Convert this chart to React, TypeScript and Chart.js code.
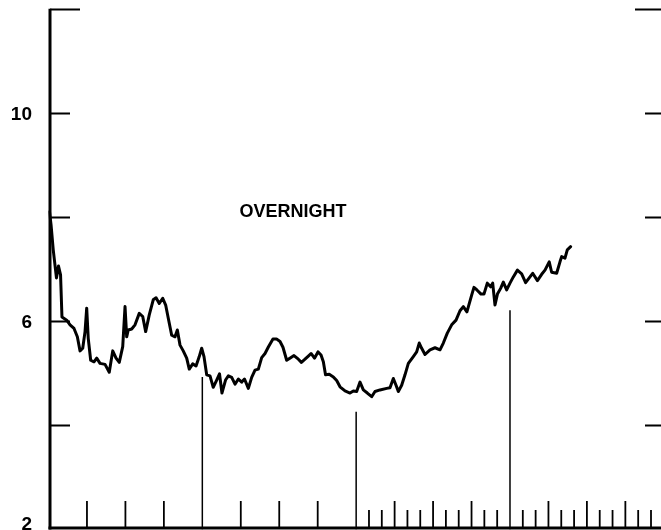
import React, { useEffect, useRef } from "react";
import { Chart, registerables } from "chart.js";

Chart.register(...registerables);

// Time in months from the start of the chart; overnight rate (%)
const months = [
  0.08, 0.2, 0.37, 0.62, 0.78, 0.94, 1.05, 1.42, 1.68, 1.99, 2.25, 2.46, 2.67, 2.85, 2.98, 3.1, 3.29, 3.55, 3.76, 4.02,
  4.41, 4.74, 5.01, 5.27, 5.52, 5.79, 5.97, 6.1, 6.22, 6.49, 6.75, 7.08, 7.35, 7.58, 7.86, 8.17, 8.39, 8.64, 8.91, 9.14,
  9.34, 9.61, 9.87, 10.05, 10.26, 10.51, 10.78, 10.98, 11.25, 11.51, 11.76, 11.95, 12.13, 12.34, 12.6, 12.85, 13.12, 13.34, 13.53, 13.81,
  14.03, 14.29, 14.55, 14.81, 15.07, 15.29, 15.59, 15.85, 16.11, 16.37, 16.63, 16.89, 17.16, 17.51, 17.78, 18.06, 18.29, 18.58, 18.89, 19.15,
  19.49, 19.73, 20.01, 20.27, 20.48, 20.75, 21.02, 21.26, 21.44, 21.61, 21.9, 22.22, 22.48, 22.74, 23.13, 23.52, 23.78, 24.04, 24.3, 24.56,
  24.87, 25.21, 25.47, 25.86, 26.38, 26.64, 26.9, 27.11, 27.29, 27.55, 27.81, 28.07, 28.46, 28.72, 28.92, 29.11, 29.37, 29.76, 30.15, 30.54,
  30.8, 31.11, 31.45, 31.79, 32.1, 32.36, 32.64, 33.01, 33.19, 33.42, 33.74, 33.97, 34.23, 34.49, 34.65, 34.83, 35.02, 35.27, 35.48, 35.74,
  36.0, 36.26, 36.58, 36.91, 37.22, 37.56, 37.77, 38.14, 38.47, 38.73, 39.06, 39.25, 39.64, 39.9, 40.03, 40.29, 40.47, 40.73,
];
const rates = [
  8.1, 7.85, 7.37, 6.83, 7.06, 6.89, 6.08, 6.02, 5.93, 5.86, 5.7, 5.43, 5.48, 5.8, 6.25, 5.67, 5.25, 5.22, 5.29, 5.19,
  5.17, 5.02, 5.43, 5.29, 5.21, 5.51, 6.28, 5.7, 5.83, 5.85, 5.93, 6.15, 6.09, 5.8, 6.12, 6.41, 6.45, 6.34, 6.44, 6.31,
  6.06, 5.73, 5.7, 5.83, 5.54, 5.43, 5.29, 5.08, 5.18, 5.14, 5.32, 5.48, 5.32, 4.97, 4.95, 4.73, 4.87, 4.99, 4.62, 4.87,
  4.95, 4.92, 4.79, 4.89, 4.83, 4.89, 4.71, 4.92, 5.06, 5.08, 5.3, 5.38, 5.51, 5.66, 5.66, 5.61, 5.5, 5.25, 5.3, 5.34,
  5.27, 5.21, 5.27, 5.33, 5.38, 5.29, 5.41, 5.35, 5.22, 4.97, 4.98, 4.93, 4.86, 4.74, 4.66, 4.62, 4.66, 4.65, 4.83, 4.68,
  4.62, 4.55, 4.65, 4.68, 4.71, 4.72, 4.9, 4.77, 4.65, 4.77, 4.97, 5.19, 5.32, 5.41, 5.58, 5.48, 5.36, 5.45, 5.49, 5.45,
  5.58, 5.77, 5.93, 6.02, 6.2, 6.28, 6.18, 6.5, 6.65, 6.6, 6.52, 6.52, 6.73, 6.66, 6.73, 6.31, 6.52, 6.63, 6.75, 6.6,
  6.73, 6.85, 6.98, 6.91, 6.74, 6.85, 6.92, 6.78, 6.9, 6.98, 7.14, 6.94, 6.92, 7.14, 7.24, 7.21, 7.37, 7.43,
];

// Year boundary markers (month, height of the vertical line)
const yearMarks = [12, 24, 36];
const yearMarkTops = [4.93, 4.26, 6.21];

// Axis ticks
const yTickValues = [12, 10, 8, 6, 4];
const yLabelValues = [10, 6, 2];
const quarterTicks = [3, 6, 9, 15, 18, 21, 27, 30, 33, 39, 42, 45];
const monthTicks = [25, 26, 28, 29, 31, 32, 34, 35, 37, 38, 40, 41, 43, 44, 46, 47];

const seriesLabel = "OVERNIGHT";
const seriesLabelMonth = 19.07;
const seriesLabelRate = 8.1;

const X_MAX = 47.78;

const framePlugin = {
  id: "frame",
  afterDatasetsDraw(chart: any) {
    const { ctx, chartArea, scales } = chart;
    const { left, right, top, bottom } = chartArea;
    const x = scales.x;
    const y = scales.y;
    ctx.save();
    ctx.strokeStyle = "#000";
    ctx.fillStyle = "#000";
    ctx.lineCap = "butt";

    // left axis line
    ctx.lineWidth = 3;
    ctx.beginPath();
    ctx.moveTo(left + 1.5, top);
    ctx.lineTo(left + 1.5, bottom);
    ctx.stroke();

    // bottom axis line
    ctx.beginPath();
    ctx.moveTo(left, bottom - 1.5);
    ctx.lineTo(right, bottom - 1.5);
    ctx.stroke();

    // y ticks, inward on both sides
    ctx.lineWidth = 2;
    yTickValues.forEach((v, i) => {
      const py = Math.round(y.getPixelForValue(v)) + 0.5;
      const lenL = i === 0 ? 30 : 20;
      const lenR = i === 0 ? 26 : 16;
      ctx.beginPath();
      ctx.moveTo(left + 1.5, py);
      ctx.lineTo(left + 1.5 + lenL, py);
      ctx.moveTo(right, py);
      ctx.lineTo(right - lenR, py);
      ctx.stroke();
    });

    // x ticks (inward, upward)
    ctx.lineWidth = 1.8;
    const drawX = (m: number, len: number) => {
      const px = x.getPixelForValue(m);
      ctx.beginPath();
      ctx.moveTo(px, bottom - 1.5);
      ctx.lineTo(px, bottom - 1.5 - len);
      ctx.stroke();
    };
    quarterTicks.forEach((m) => drawX(m, 27));
    monthTicks.forEach((m) => drawX(m, 18));

    // y labels
    ctx.font = "bold 19px 'Liberation Sans', Arial, sans-serif";
    ctx.textAlign = "right";
    ctx.textBaseline = "middle";
    yLabelValues.forEach((v) => {
      let py = y.getPixelForValue(v) + 2;
      if (py > bottom - 6) py = bottom - 5;
      ctx.fillText(String(v), 32, py);
    });

    // series label
    ctx.font = "bold 18px 'Liberation Sans', Arial, sans-serif";
    ctx.textAlign = "center";
    ctx.fillText(seriesLabel, x.getPixelForValue(seriesLabelMonth), y.getPixelForValue(seriesLabelRate));
    ctx.restore();
  },
};

const whiteBg = {
  id: "whiteBg",
  beforeDraw(chart: any) {
    const { ctx, width, height } = chart;
    ctx.save();
    ctx.fillStyle = "#fff";
    ctx.fillRect(0, 0, width, height);
    ctx.restore();
  },
};

export default function App() {
  const ref = useRef<HTMLCanvasElement | null>(null);

  useEffect(() => {
    if (!ref.current) return;
    const linePoints = months.map((m, i) => ({ x: m, y: rates[i] }));
    const markPoints: any[] = [];
    yearMarks.forEach((m, i) => {
      markPoints.push({ x: m, y: 2 });
      markPoints.push({ x: m, y: yearMarkTops[i] });
      markPoints.push({ x: m + 0.01, y: null });
    });

    const chart = new Chart(ref.current, {
      type: "line",
      data: {
        datasets: [
          {
            label: "year",
            data: markPoints,
            borderColor: "#000",
            borderWidth: 1.5,
            pointRadius: 0,
            spanGaps: false,
            tension: 0,
          },
          {
            label: seriesLabel,
            data: linePoints,
            borderColor: "#000",
            borderWidth: 3,
            pointRadius: 0,
            tension: 0,
            borderJoinStyle: "round",
            borderCapStyle: "round",
          },
        ],
      },
      options: {
        responsive: false,
        animation: false,
        devicePixelRatio: 1,
        layout: { padding: { left: 48.5, right: 0, top: 8.7, bottom: 0.5 } },
        plugins: { legend: { display: false }, tooltip: { enabled: false } },
        events: [],
        scales: {
          x: { type: "linear", min: 0, max: X_MAX, display: false },
          y: { type: "linear", min: 2, max: 12, display: false },
        },
      },
      plugins: [whiteBg, framePlugin],
    } as any);
    return () => chart.destroy();
  }, []);

  return (
    <div style={{ position: "fixed", left: 0, top: 0, width: 661, height: 530, overflow: "hidden", background: "#fff" }}>
      <canvas ref={ref} width={661} height={530} style={{ display: "block" }} />
    </div>
  );
}
